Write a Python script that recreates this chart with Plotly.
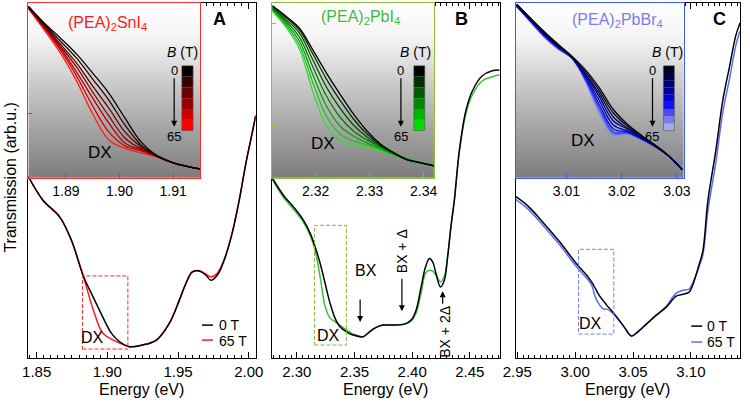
import plotly.graph_objects as go

# ---------------- main panels data ----------------
E_A = [1.8441, 1.8546, 1.8664, 1.8746, 1.8828, 1.8899, 1.8967, 1.9028, 1.9087, 1.9157, 1.9249,
       1.9347, 1.9439, 1.9509, 1.9556, 1.9601, 1.9650, 1.9697, 1.9732, 1.9777, 1.9826, 1.9882,
       1.9932, 1.9979, 2.0023, 2.0049]
A_0T = [182, 158, 141.3, 118, 83, 61.3, 41.3, 25, 16.3, 11.3, 13, 18, 35, 58, 75, 86.3, 87.3,
        83, 78, 83, 98, 125, 158, 195, 225, 243]
A_65T = [182, 158, 141.3, 118, 83, 49, 25, 19, 15, 11.3, 13, 18, 35, 58, 75, 86.3, 87.5, 84,
         81.3, 85, 99, 125, 158, 195, 225, 243]

E_B = [2.2784, 2.2885, 2.2972, 2.3058, 2.3116, 2.3159, 2.3202, 2.3245, 2.3288, 2.3331, 2.3374,
       2.3431, 2.3489, 2.3575, 2.3618, 2.3676, 2.3747, 2.3834, 2.3934, 2.3991, 2.4034, 2.4078,
       2.4116, 2.4150, 2.4178, 2.4207, 2.4245, 2.4279, 2.4308, 2.4336, 2.4366, 2.4409, 2.4466,
       2.4523, 2.4609, 2.4695, 2.4759]
B_0T = [181, 163, 151.3, 138, 125, 111.3, 95, 75, 55, 40, 31.3, 26.3, 23, 21.3, 25, 30, 33, 33,
        34, 38, 48, 71.3, 91.3, 99.7, 96.3, 84.7, 71.3, 78, 101.3, 131.3, 158, 208, 248, 268,
        283, 288, 288.7]
B_65T = [180, 161, 149, 136, 123, 108, 81.3, 52, 40, 36.5, 33, 28, 24, 21.3, 25, 30, 33, 33,
         34, 37, 45, 65, 85, 88, 87, 83, 76.3, 82, 103, 131.3, 158, 206, 245, 264, 278, 282, 284]

E_C = [2.9485, 2.9586, 2.9700, 2.9869, 3.0015, 3.0100, 3.0143, 3.0178, 3.0212, 3.0246, 3.0272,
       3.0332, 3.0418, 3.0486, 3.0529, 3.0615, 3.0701, 3.0787, 3.0873, 3.0933, 3.0984, 3.1018,
       3.1069, 3.1104, 3.1147, 3.1215, 3.1275, 3.1335, 3.1387, 3.1424]
C_0T = [162, 153, 139, 116, 94, 83, 76, 69, 62, 57, 53, 45, 32, 22, 25, 34, 43, 51, 62, 64, 66,
        74, 93, 108, 158, 208, 258, 293, 323, 336]
C_65T = [159, 150, 136, 113, 91, 80, 73, 60, 53, 49, 49, 44, 32, 22, 25, 34, 43, 52, 65, 68, 69,
         76, 91, 104, 148, 196, 246, 281, 313, 328]

# ---------------- inset data (field series, 0 T first) ----------------
EA_IN = [1.883, 1.886, 1.889, 1.892, 1.895, 1.898, 1.901, 1.904, 1.907, 1.910, 1.913, 1.915]
A_IN_0 = [172, 155, 140, 124, 105, 85, 60, 36, 22, 15, 11, 9]
A_IN_1 = [172, 154, 137, 120, 99, 78, 53, 33, 22, 15, 11, 9]
A_IN_2 = [171, 153, 134, 115, 92, 70, 46, 31, 22, 15, 11, 9]
A_IN_3 = [171, 152, 132, 111, 86, 62, 40, 29, 22, 15, 11, 9]
A_IN_4 = [171, 151, 130, 106, 80, 55, 35, 28, 21.5, 15, 11, 9]
A_IN_5 = [170, 150, 128, 102, 72, 46, 32, 27, 21, 15, 11, 9]
A_IN_6 = [170, 148, 125, 97, 64, 38, 29.5, 25, 21, 15, 11, 9]

EB_IN = [2.312, 2.3145, 2.317, 2.3195, 2.322, 2.3245, 2.327, 2.3295, 2.332, 2.3345, 2.337,
         2.3395, 2.342]
B_IN_0 = [172.5, 162, 150, 128, 105, 84, 64, 47, 34, 25, 18, 15, 12]
B_IN_1 = [172, 161, 148, 124, 99, 78, 59, 44, 33, 25, 18, 15, 12]
B_IN_2 = [171, 159, 145, 118, 91, 70, 53, 41, 32, 24.5, 18, 15, 12]
B_IN_3 = [170, 157, 141, 111, 82, 61, 47, 38, 31, 24, 18.5, 15, 12]
B_IN_4 = [169, 155, 137, 103, 72, 52, 42, 35, 29.5, 23.5, 18.5, 15, 12]
B_IN_5 = [168, 153, 133, 95, 62, 44, 37, 33, 28, 23, 19, 15, 12]
B_IN_6 = [167, 151, 129, 86, 52, 37, 33, 30.5, 27, 23, 19, 15, 12]

EC_IN = [3.001, 3.0035, 3.006, 3.0085, 3.011, 3.0135, 3.016, 3.0185, 3.021, 3.0235, 3.026,
         3.0285, 3.031]
C_IN_0 = [174, 160, 146.5, 134, 122, 108, 90, 68.5, 54, 43, 33, 22, 8]
C_IN_1 = [174, 160, 146, 133, 121, 106, 87, 65, 52, 42, 33, 22, 8]
C_IN_2 = [173, 159, 145, 133, 121, 104, 84, 61, 50, 41, 32.5, 22, 8]
C_IN_3 = [173, 159, 144, 132, 121, 103, 81, 57, 49, 40.5, 32, 22, 8]
C_IN_4 = [173, 158, 144, 131, 121, 101, 77, 53, 47, 40, 32, 22, 8]
C_IN_5 = [172, 158, 143, 131, 120, 100, 73, 49, 46, 39.5, 32, 22, 8]
C_IN_6 = [172, 157, 142, 130, 120, 98, 70, 46, 45, 39, 31.5, 22, 8]
C_IN_7 = [172, 157, 141.5, 129.5, 120, 97, 67, 44, 44.5, 38.5, 31.5, 22, 8]
C_IN_8 = [172, 156, 141, 129, 120, 96, 63.5, 42, 44, 38, 31.5, 22, 8]

A_TICKS = [1.85, 1.90, 1.95, 2.00]
B_TICKS = [2.30, 2.35, 2.40, 2.45]
C_TICKS = [2.95, 3.00, 3.05, 3.10]
A_IN_TICKS = [1.89, 1.90, 1.91]
B_IN_TICKS = [2.32, 2.33, 2.34]
C_IN_TICKS = [3.01, 3.02, 3.03]

# ---------------- styling ----------------
FONT = "Liberation Sans, Arial, sans-serif"
W, H = 750, 403
ML, MR, MT, MB = 28, 6, 2, 45
PW, PH = W - ML - MR, H - MT - MB


def PX(x):
    return (x - ML) / PW


def PY(y):
    return (H - MB - y) / PH


def DX(a, b):
    return [max(0.0, min(1.0, PX(a))), max(0.0, min(1.0, PX(b)))]


RED = "#ff1a1a"
GREEN = "#3cbd3c"
BLUE = "#5a6cff"
A_FRAME, B_FRAME, C_FRAME = "#ff2a2a", "#8cc03c", "#3c58ff"

A_COLS = ["#000000", "#2e0000", "#5a0000", "#860000", "#b20000", "#da0000", "#ff1a1a"]
B_COLS = ["#000000", "#003300", "#005800", "#007d00", "#00a300", "#1cc41c", "#3ad83a"]
C_COLS = ["#000000", "#000030", "#000058", "#00008a", "#0000b8", "#0a12e0", "#2a3af8",
          "#5a66fa", "#8c92f0"]
A_SW = ["#000000", "#3a0000", "#6a0000", "#990000", "#cc0000", "#ff0000"]
B_SW = ["#000000", "#003000", "#005a00", "#008800", "#00b400", "#00dd00"]
C_SW = ["#000020", "#000040", "#000070", "#0000a0", "#0000d0", "#1010f0", "#4a4af0",
        "#7a7ae8", "#a8a8e8"]

fig = go.Figure()

# main traces
fig.add_trace(go.Scatter(x=E_A, y=A_65T, mode="lines", line=dict(color=RED, width=1.5),
                         xaxis="x", yaxis="y", line_shape="spline"))
fig.add_trace(go.Scatter(x=E_A, y=A_0T, mode="lines", line=dict(color="black", width=1.5),
                         xaxis="x", yaxis="y", line_shape="spline"))
fig.add_trace(go.Scatter(x=E_B, y=B_65T, mode="lines", line=dict(color=GREEN, width=1.5),
                         xaxis="x2", yaxis="y2", line_shape="spline"))
fig.add_trace(go.Scatter(x=E_B, y=B_0T, mode="lines", line=dict(color="black", width=1.5),
                         xaxis="x2", yaxis="y2", line_shape="spline"))
fig.add_trace(go.Scatter(x=E_C, y=C_65T, mode="lines", line=dict(color=BLUE, width=1.5),
                         xaxis="x3", yaxis="y3", line_shape="spline"))
fig.add_trace(go.Scatter(x=E_C, y=C_0T, mode="lines", line=dict(color="black", width=1.5),
                         xaxis="x3", yaxis="y3", line_shape="spline"))

# inset backgrounds (vertical gray gradient)
grad_y = list(range(0, 177, 4))
for ax, xr in (("4", EA_IN), ("5", EB_IN), ("6", EC_IN)):
    fig.add_trace(go.Heatmap(x=[xr[0] - 0.002, xr[-1] + 0.002], y=grad_y,
                             z=[[v, v] for v in grad_y], zsmooth="best", showscale=False,
                             colorscale=[[0, "#7c7c7c"], [0.45, "#bdbdbd"], [0.8, "#f4f4f4"],
                                         [1, "#ffffff"]],
                             hoverinfo="skip", xaxis="x" + ax, yaxis="y" + ax))

A_IN = [A_IN_0, A_IN_1, A_IN_2, A_IN_3, A_IN_4, A_IN_5, A_IN_6]
B_IN = [B_IN_0, B_IN_1, B_IN_2, B_IN_3, B_IN_4, B_IN_5, B_IN_6]
C_IN = [C_IN_0, C_IN_1, C_IN_2, C_IN_3, C_IN_4, C_IN_5, C_IN_6, C_IN_7, C_IN_8]
for ax, ex, curves, cols in (("4", EA_IN, A_IN, A_COLS), ("5", EB_IN, B_IN, B_COLS),
                             ("6", EC_IN, C_IN, C_COLS)):
    for ys, c in list(zip(curves, cols))[::-1]:
        fig.add_trace(go.Scatter(x=ex, y=ys, mode="lines", line=dict(color=c, width=1.3),
                                 line_shape="spline", xaxis="x" + ax, yaxis="y" + ax))


def main_x(dom, rng, ticks, anchor):
    return dict(domain=dom, range=rng, tickvals=ticks, tickformat=".2f", ticks="inside",
                ticklen=6, tickcolor="black", showline=True, linecolor="black", linewidth=1,
                mirror="ticks", showgrid=False, zeroline=False, anchor=anchor,
                minor=dict(dtick=0.005, ticks="inside", ticklen=3, tickcolor="black",
                           showgrid=False),
                tickfont=dict(size=15, color="black", family=FONT))


def main_y(anchor):
    return dict(domain=[0, 1], range=[0, 356], showline=True, linecolor="black", linewidth=1,
                mirror=True, showticklabels=False, ticks="", showgrid=False, zeroline=False,
                anchor=anchor)


def in_x(dom, rng, ticks, col, anchor):
    return dict(domain=dom, range=rng, tickvals=ticks, tickformat=".2f", ticks="inside",
                ticklen=5, tickcolor=col, showline=True, linecolor=col, linewidth=1.2,
                mirror=True, showgrid=False, zeroline=False, anchor=anchor,
                tickfont=dict(size=14, color="black", family=FONT))


def in_y(col, anchor, tv):
    return dict(domain=[PY(177.3), 1], range=[0, 175.3], showline=True, linecolor=col,
                linewidth=1.2, mirror=True, ticks="inside", ticklen=4, tickcolor=col,
                tickvals=tv, showticklabels=False, showgrid=False, zeroline=False,
                anchor=anchor)


fig.update_layout(
    width=W, height=H, margin=dict(l=ML, r=MR, t=MT, b=MB),
    paper_bgcolor="white", plot_bgcolor="rgba(0,0,0,0)", showlegend=False,
    font=dict(family=FONT, color="black"),
    xaxis=main_x(DX(28.3, 257), [1.8441, 2.0049], A_TICKS, "y"),
    yaxis=main_y("x"),
    xaxis2=main_x(DX(273.3, 502.3), [2.2784, 2.4759], B_TICKS, "y2"),
    yaxis2=main_y("x2"),
    xaxis3=main_x(DX(518.3, 744.3), [2.9485, 3.1424], C_TICKS, "y3"),
    yaxis3=main_y("x3"),
    xaxis4=in_x(DX(28.3, 201), [1.8830, 1.9150], A_IN_TICKS, A_FRAME, "y4"),
    yaxis4=in_y(A_FRAME, "x4", [64]),
    xaxis5=in_x(DX(273.3, 436.7), [2.3119, 2.3420], B_IN_TICKS, B_FRAME, "y5"),
    yaxis5=in_y(B_FRAME, "x5", [51, 155]),
    xaxis6=in_x(DX(518.3, 687.7), [3.0008, 3.0313], C_IN_TICKS, C_FRAME, "y6"),
    yaxis6=in_y(C_FRAME, "x6", []),
)

shapes = []
# dashed DX boxes in main panels
DASH = "4px,2px"
shapes.append(dict(type="rect", xref="x", yref="y", x0=1.8824, x1=1.9145, y0=9, y1=82.3,
                   line=dict(color="#ff2a2a", width=1, dash=DASH)))
shapes.append(dict(type="rect", xref="x2", yref="y2", x0=2.3153, x1=2.343, y0=13, y1=133,
                   line=dict(color="#8cb43c", width=1, dash=DASH)))
shapes.append(dict(type="rect", xref="x3", yref="y3", x0=3.0029, x1=3.0334, y0=24, y1=109,
                   line=dict(color="#6b84ff", width=1, dash=DASH)))

# colour swatches for field scale
for sw, x0, x1 in ((A_SW, 182.7, 194), (B_SW, 416, 427), (C_SW, 667, 678)):
    n = len(sw)
    top, bot = 65, 130
    step = (bot - top) / n
    for i, c in enumerate(sw):
        shapes.append(dict(type="rect", xref="paper", yref="paper", x0=PX(x0), x1=PX(x1),
                           y0=PY(top + (i + 1) * step), y1=PY(top + i * step),
                           fillcolor=c, line=dict(width=0)))
    shapes.append(dict(type="rect", xref="paper", yref="paper", x0=PX(x0), x1=PX(x1),
                       y0=PY(bot), y1=PY(top), line=dict(color="#555", width=0.6)))

# legend lines
for x0, y0, col in ((203, 325, "black"), (203, 340, RED), (695, 326, "black"), (695, 342, BLUE)):
    shapes.append(dict(type="line", xref="paper", yref="paper", x0=PX(x0), x1=PX(x0 + 11),
                       y0=PY(y0), y1=PY(y0), line=dict(color=col, width=1.5)))

fig.update_layout(shapes=shapes)

ann = []


def txt(x, y, t, size=14, color="black", angle=0, xanchor="center", bold=False):
    if bold:
        t = "<b>" + t + "</b>"
    ann.append(dict(xref="paper", yref="paper", x=PX(x), y=PY(y), text=t, showarrow=False,
                    font=dict(size=size, color=color, family=FONT), textangle=angle,
                    xanchor=xanchor, yanchor="middle"))


def arrow(x, y, ay, ax=0):
    ann.append(dict(xref="paper", yref="paper", x=PX(x), y=PY(y), text="", showarrow=True,
                    ax=ax, ay=ay, arrowhead=2, arrowsize=1, arrowwidth=1.2,
                    arrowcolor="black"))


# axis titles
txt(10, 177, "Transmission (arb.u.)", 16, angle=-90)
txt(142, 390, "Energy (eV)", 16)
txt(388, 390, "Energy (eV)", 16)
txt(631, 390, "Energy (eV)", 16)

# panel letters
txt(221, 18, "A", 18, bold=True)
txt(464, 18, "B", 18, bold=True)
txt(723, 18, "C", 18, bold=True)

# inset titles
txt(108, 23, "(PEA)<sub>2</sub>SnI<sub>4</sub>", 16, RED)
txt(362, 17, "(PEA)<sub>2</sub>PbI<sub>4</sub>", 16, GREEN)
txt(621, 20, "(PEA)<sub>2</sub>PbBr<sub>4</sub>", 16, "#7b7bef")

# DX labels
txt(100, 152, "DX", 17)
txt(325, 143, "DX", 17)
txt(586, 140, "DX", 17)
txt(93, 337, "DX", 16)
txt(330, 335, "DX", 16)
txt(594, 323, "DX", 16)

# field scale labels
for bx, zx in ((183, 175), (418, 403), (671, 656)):
    txt(bx, 51, "<i>B</i> (T)", 14)
    txt(zx, 70, "0", 13)
    txt(zx, 136, "65", 13)
    arrow(zx, 126, -50)

# legends
txt(218, 325, "0 T", 14, xanchor="left")
txt(218, 341, "65 T", 14, xanchor="left")
txt(709, 326, "0 T", 14, xanchor="left")
txt(709, 342, "65 T", 14, xanchor="left")

# panel B annotations
txt(368, 270, "BX", 16)
arrow(362, 322, -24)
txt(404, 251, "BX + Δ", 14, angle=-90)
arrow(404, 311, -34)
txt(447, 332, "BX + 2Δ", 14, angle=-90)
arrow(445, 291, 14)

fig.update_layout(annotations=ann)
fig.write_html("out.html", config={"displayModeBar": False},
               post_script="document.body.style.margin='0';document.body.style.overflow='hidden';")
